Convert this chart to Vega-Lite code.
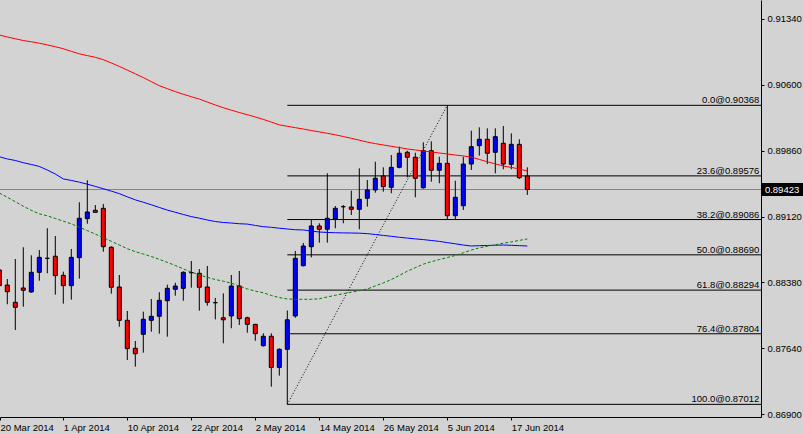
{
  "$schema": "https://vega.github.io/schema/vega-lite/v6.json",
  "width": 761,
  "height": 417,
  "autosize": {"type": "none"},
  "padding": {"left": 0, "top": 0, "right": 42, "bottom": 17},
  "background": "#D3D3D3",
  "config": {"view": {"stroke": null, "fill": "#D3D3D3"}, "font": "Liberation Sans", "scale": {"continuousPadding": 0}},
  "datasets": {
    "bars": [
      {"i": 0, "date": "2014-03-20", "open": 0.8852, "high": 0.88565, "low": 0.88295, "close": 0.88344, "ma_long": 0.91157, "ma_mid": 0.89791, "ma_short": 0.89384},
      {"i": 1, "date": "2014-03-21", "open": 0.88351, "high": 0.88419, "low": 0.88135, "close": 0.88276, "ma_long": 0.91135, "ma_mid": 0.89766, "ma_short": 0.89336},
      {"i": 2, "date": "2014-03-24", "open": 0.88157, "high": 0.88643, "low": 0.87846, "close": 0.88101, "ma_long": 0.91115, "ma_mid": 0.89749, "ma_short": 0.89286},
      {"i": 3, "date": "2014-03-25", "open": 0.88318, "high": 0.88775, "low": 0.88108, "close": 0.88292, "ma_long": 0.91095, "ma_mid": 0.89724, "ma_short": 0.89236},
      {"i": 4, "date": "2014-03-26", "open": 0.88273, "high": 0.88685, "low": 0.88265, "close": 0.88494, "ma_long": 0.91081, "ma_mid": 0.89704, "ma_short": 0.89189},
      {"i": 5, "date": "2014-03-27", "open": 0.88494, "high": 0.88744, "low": 0.884, "close": 0.88662, "ma_long": 0.91065, "ma_mid": 0.89682, "ma_short": 0.8915},
      {"i": 6, "date": "2014-03-28", "open": 0.88651, "high": 0.88988, "low": 0.88483, "close": 0.88651, "ma_long": 0.91046, "ma_mid": 0.89642, "ma_short": 0.89128},
      {"i": 7, "date": "2014-03-31", "open": 0.88674, "high": 0.88901, "low": 0.88243, "close": 0.88456, "ma_long": 0.91026, "ma_mid": 0.89597, "ma_short": 0.89098},
      {"i": 8, "date": "2014-04-01", "open": 0.8846, "high": 0.88501, "low": 0.88142, "close": 0.88344, "ma_long": 0.91003, "ma_mid": 0.89542, "ma_short": 0.89068},
      {"i": 9, "date": "2014-04-02", "open": 0.88344, "high": 0.88756, "low": 0.88187, "close": 0.88662, "ma_long": 0.90974, "ma_mid": 0.89525, "ma_short": 0.89038},
      {"i": 10, "date": "2014-04-03", "open": 0.88658, "high": 0.8928, "low": 0.88422, "close": 0.891, "ma_long": 0.90946, "ma_mid": 0.89506, "ma_short": 0.89},
      {"i": 11, "date": "2014-04-04", "open": 0.89096, "high": 0.89527, "low": 0.89039, "close": 0.89171, "ma_long": 0.90926, "ma_mid": 0.89483, "ma_short": 0.88962},
      {"i": 12, "date": "2014-04-06", "open": 0.8919, "high": 0.89249, "low": 0.89167, "close": 0.89167, "ma_long": 0.90907, "ma_mid": 0.89458, "ma_short": 0.88923},
      {"i": 13, "date": "2014-04-07", "open": 0.89212, "high": 0.89261, "low": 0.88725, "close": 0.88781, "ma_long": 0.9088, "ma_mid": 0.89432, "ma_short": 0.88882},
      {"i": 14, "date": "2014-04-08", "open": 0.88775, "high": 0.88785, "low": 0.88254, "close": 0.88326, "ma_long": 0.90843, "ma_mid": 0.89405, "ma_short": 0.88842},
      {"i": 15, "date": "2014-04-09", "open": 0.88329, "high": 0.88464, "low": 0.87883, "close": 0.87955, "ma_long": 0.90805, "ma_mid": 0.89377, "ma_short": 0.888},
      {"i": 16, "date": "2014-04-10", "open": 0.87955, "high": 0.8806, "low": 0.8751, "close": 0.87637, "ma_long": 0.90763, "ma_mid": 0.89341, "ma_short": 0.88759},
      {"i": 17, "date": "2014-04-11", "open": 0.87641, "high": 0.87723, "low": 0.87435, "close": 0.8758, "ma_long": 0.90722, "ma_mid": 0.89307, "ma_short": 0.88726},
      {"i": 18, "date": "2014-04-14", "open": 0.87798, "high": 0.88052, "low": 0.87592, "close": 0.87967, "ma_long": 0.90679, "ma_mid": 0.8928, "ma_short": 0.88699},
      {"i": 19, "date": "2014-04-15", "open": 0.87955, "high": 0.88194, "low": 0.87827, "close": 0.88, "ma_long": 0.90634, "ma_mid": 0.89252, "ma_short": 0.88671},
      {"i": 20, "date": "2014-04-16", "open": 0.88, "high": 0.8827, "low": 0.87805, "close": 0.8818, "ma_long": 0.90588, "ma_mid": 0.89222, "ma_short": 0.88639},
      {"i": 21, "date": "2014-04-17", "open": 0.88175, "high": 0.88355, "low": 0.87771, "close": 0.88314, "ma_long": 0.90555, "ma_mid": 0.89192, "ma_short": 0.88606},
      {"i": 22, "date": "2014-04-18", "open": 0.88303, "high": 0.88377, "low": 0.88231, "close": 0.8834, "ma_long": 0.90522, "ma_mid": 0.89168, "ma_short": 0.8857},
      {"i": 23, "date": "2014-04-21", "open": 0.88314, "high": 0.88505, "low": 0.88175, "close": 0.88494, "ma_long": 0.90492, "ma_mid": 0.89143, "ma_short": 0.88532},
      {"i": 24, "date": "2014-04-22", "open": 0.8849, "high": 0.88621, "low": 0.88321, "close": 0.8849, "ma_long": 0.90465, "ma_mid": 0.89119, "ma_short": 0.88496},
      {"i": 25, "date": "2014-04-23", "open": 0.88483, "high": 0.88531, "low": 0.88063, "close": 0.88326, "ma_long": 0.90438, "ma_mid": 0.89101, "ma_short": 0.88466},
      {"i": 26, "date": "2014-04-24", "open": 0.88329, "high": 0.88565, "low": 0.88119, "close": 0.88157, "ma_long": 0.90405, "ma_mid": 0.89081, "ma_short": 0.88437},
      {"i": 27, "date": "2014-04-25", "open": 0.88153, "high": 0.88206, "low": 0.87965, "close": 0.88153, "ma_long": 0.90372, "ma_mid": 0.89064, "ma_short": 0.88413},
      {"i": 28, "date": "2014-04-28", "open": 0.87984, "high": 0.88258, "low": 0.87697, "close": 0.87961, "ma_long": 0.90341, "ma_mid": 0.89053, "ma_short": 0.88394},
      {"i": 29, "date": "2014-04-29", "open": 0.88004, "high": 0.88464, "low": 0.87866, "close": 0.8834, "ma_long": 0.90314, "ma_mid": 0.89047, "ma_short": 0.88372},
      {"i": 30, "date": "2014-04-30", "open": 0.8834, "high": 0.88509, "low": 0.87903, "close": 0.87973, "ma_long": 0.90287, "ma_mid": 0.89039, "ma_short": 0.88339},
      {"i": 31, "date": "2014-05-01", "open": 0.87984, "high": 0.87995, "low": 0.87816, "close": 0.8791, "ma_long": 0.90263, "ma_mid": 0.89035, "ma_short": 0.88307},
      {"i": 32, "date": "2014-05-02", "open": 0.8791, "high": 0.87915, "low": 0.87726, "close": 0.87805, "ma_long": 0.90237, "ma_mid": 0.8902, "ma_short": 0.88283},
      {"i": 33, "date": "2014-05-05", "open": 0.8767, "high": 0.87809, "low": 0.87659, "close": 0.87776, "ma_long": 0.9021, "ma_mid": 0.89006, "ma_short": 0.88264},
      {"i": 34, "date": "2014-05-06", "open": 0.87776, "high": 0.87809, "low": 0.8721, "close": 0.87426, "ma_long": 0.9018, "ma_mid": 0.88999, "ma_short": 0.88234},
      {"i": 35, "date": "2014-05-07", "open": 0.87426, "high": 0.8764, "low": 0.87334, "close": 0.8763, "ma_long": 0.90149, "ma_mid": 0.88989, "ma_short": 0.8821},
      {"i": 36, "date": "2014-05-08", "open": 0.8763, "high": 0.88065, "low": 0.87012, "close": 0.87961, "ma_long": 0.90133, "ma_mid": 0.8898, "ma_short": 0.88195},
      {"i": 37, "date": "2014-05-09", "open": 0.88004, "high": 0.88733, "low": 0.87984, "close": 0.88651, "ma_long": 0.90117, "ma_mid": 0.88972, "ma_short": 0.88191},
      {"i": 38, "date": "2014-05-12", "open": 0.88568, "high": 0.88823, "low": 0.8856, "close": 0.88789, "ma_long": 0.90102, "ma_mid": 0.88969, "ma_short": 0.88191},
      {"i": 39, "date": "2014-05-13", "open": 0.88781, "high": 0.89089, "low": 0.88662, "close": 0.89014, "ma_long": 0.90085, "ma_mid": 0.88957, "ma_short": 0.88191},
      {"i": 40, "date": "2014-05-14", "open": 0.89014, "high": 0.89044, "low": 0.88826, "close": 0.88977, "ma_long": 0.9007, "ma_mid": 0.88946, "ma_short": 0.88197},
      {"i": 41, "date": "2014-05-15", "open": 0.88977, "high": 0.89605, "low": 0.88826, "close": 0.891, "ma_long": 0.90054, "ma_mid": 0.88941, "ma_short": 0.88217},
      {"i": 42, "date": "2014-05-16", "open": 0.89092, "high": 0.89238, "low": 0.88988, "close": 0.89212, "ma_long": 0.90037, "ma_mid": 0.88938, "ma_short": 0.88236},
      {"i": 43, "date": "2014-05-19", "open": 0.8923, "high": 0.89249, "low": 0.89044, "close": 0.8923, "ma_long": 0.90018, "ma_mid": 0.88936, "ma_short": 0.88254},
      {"i": 44, "date": "2014-05-20", "open": 0.89227, "high": 0.8941, "low": 0.89137, "close": 0.89201, "ma_long": 0.89998, "ma_mid": 0.88935, "ma_short": 0.88271},
      {"i": 45, "date": "2014-05-21", "open": 0.89201, "high": 0.89661, "low": 0.88977, "close": 0.89313, "ma_long": 0.89977, "ma_mid": 0.88933, "ma_short": 0.88288},
      {"i": 46, "date": "2014-05-22", "open": 0.89325, "high": 0.8953, "low": 0.8923, "close": 0.89418, "ma_long": 0.89955, "ma_mid": 0.88928, "ma_short": 0.88307},
      {"i": 47, "date": "2014-05-23", "open": 0.89418, "high": 0.89735, "low": 0.89387, "close": 0.89549, "ma_long": 0.89938, "ma_mid": 0.88918, "ma_short": 0.88341},
      {"i": 48, "date": "2014-05-26", "open": 0.89575, "high": 0.89672, "low": 0.89399, "close": 0.89455, "ma_long": 0.89923, "ma_mid": 0.88908, "ma_short": 0.88375},
      {"i": 49, "date": "2014-05-27", "open": 0.89448, "high": 0.8981, "low": 0.89381, "close": 0.89672, "ma_long": 0.89908, "ma_mid": 0.88898, "ma_short": 0.88412},
      {"i": 50, "date": "2014-05-28", "open": 0.89672, "high": 0.89904, "low": 0.89661, "close": 0.8983, "ma_long": 0.89894, "ma_mid": 0.88887, "ma_short": 0.88459},
      {"i": 51, "date": "2014-05-29", "open": 0.89841, "high": 0.89859, "low": 0.8956, "close": 0.89785, "ma_long": 0.89878, "ma_mid": 0.88878, "ma_short": 0.88506},
      {"i": 52, "date": "2014-05-30", "open": 0.89785, "high": 0.89836, "low": 0.89336, "close": 0.89549, "ma_long": 0.89867, "ma_mid": 0.88869, "ma_short": 0.88546},
      {"i": 53, "date": "2014-06-02", "open": 0.89443, "high": 0.89953, "low": 0.89432, "close": 0.89859, "ma_long": 0.89855, "ma_mid": 0.88861, "ma_short": 0.88585},
      {"i": 54, "date": "2014-06-03", "open": 0.89859, "high": 0.89964, "low": 0.89511, "close": 0.89639, "ma_long": 0.89844, "ma_mid": 0.88851, "ma_short": 0.88613},
      {"i": 55, "date": "2014-06-04", "open": 0.89639, "high": 0.89791, "low": 0.89493, "close": 0.89717, "ma_long": 0.89833, "ma_mid": 0.88841, "ma_short": 0.88637},
      {"i": 56, "date": "2014-06-05", "open": 0.89717, "high": 0.90368, "low": 0.89081, "close": 0.89129, "ma_long": 0.89822, "ma_mid": 0.88827, "ma_short": 0.88659},
      {"i": 57, "date": "2014-06-06", "open": 0.89129, "high": 0.89522, "low": 0.89092, "close": 0.89336, "ma_long": 0.8981, "ma_mid": 0.88814, "ma_short": 0.88683},
      {"i": 58, "date": "2014-06-09", "open": 0.89241, "high": 0.89791, "low": 0.89193, "close": 0.89709, "ma_long": 0.898, "ma_mid": 0.888, "ma_short": 0.88713},
      {"i": 59, "date": "2014-06-10", "open": 0.89709, "high": 0.90083, "low": 0.89642, "close": 0.89904, "ma_long": 0.89787, "ma_mid": 0.88789, "ma_short": 0.88743},
      {"i": 60, "date": "2014-06-11", "open": 0.89915, "high": 0.90121, "low": 0.89803, "close": 0.89987, "ma_long": 0.89761, "ma_mid": 0.88793, "ma_short": 0.88769},
      {"i": 61, "date": "2014-06-12", "open": 0.89987, "high": 0.9011, "low": 0.89709, "close": 0.8983, "ma_long": 0.89734, "ma_mid": 0.88795, "ma_short": 0.88786},
      {"i": 62, "date": "2014-06-13", "open": 0.89841, "high": 0.9011, "low": 0.89605, "close": 0.90016, "ma_long": 0.89711, "ma_mid": 0.88798, "ma_short": 0.88803},
      {"i": 63, "date": "2014-06-16", "open": 0.89942, "high": 0.90136, "low": 0.8965, "close": 0.89709, "ma_long": 0.89687, "ma_mid": 0.888, "ma_short": 0.8882},
      {"i": 64, "date": "2014-06-17", "open": 0.89706, "high": 0.90054, "low": 0.8965, "close": 0.8993, "ma_long": 0.89671, "ma_mid": 0.88797, "ma_short": 0.88835},
      {"i": 65, "date": "2014-06-18", "open": 0.8993, "high": 0.89987, "low": 0.89541, "close": 0.89556, "ma_long": 0.89654, "ma_mid": 0.88793, "ma_short": 0.88852},
      {"i": 66, "date": "2014-06-19", "open": 0.89575, "high": 0.89672, "low": 0.89362, "close": 0.89423, "ma_long": 0.89631, "ma_mid": 0.88789, "ma_short": 0.88868}
    ],
    "fib": [
      {"level": "0.0", "price": 0.90368, "label": "0.0@0.90368"},
      {"level": "23.6", "price": 0.89576, "label": "23.6@0.89576"},
      {"level": "38.2", "price": 0.89086, "label": "38.2@0.89086"},
      {"level": "50.0", "price": 0.8869, "label": "50.0@0.88690"},
      {"level": "61.8", "price": 0.88294, "label": "61.8@0.88294"},
      {"level": "76.4", "price": 0.87804, "label": "76.4@0.87804"},
      {"level": "100.0", "price": 0.87012, "label": "100.0@0.87012"}
    ],
    "trend": [
      {"i": 36, "price": 0.87012},
      {"i": 56, "price": 0.90368}
    ],
    "last": [{"price": 0.89423}]
  },
  "layer": [
    {
      "data": {"name": "last"},
      "mark": {"type": "rule", "color": "#778899", "strokeWidth": 1},
      "encoding": {
        "y": {
          "field": "price", "type": "quantitative", "title": null,
          "scale": {"domain": [0.8687, 0.9155], "nice": false, "zero": false, "padding": 0},
          "axis": {
            "orient": "right",
            "values": [0.869, 0.8727, 0.8764, 0.8801, 0.8838, 0.8875, 0.8912, 0.8949, 0.8986, 0.9023, 0.906, 0.9097, 0.9134],
            "format": ".5f", "grid": false,
            "domainColor": "#000000", "domainWidth": 1,
            "tickColor": "#000000", "tickSize": 3, "tickWidth": 1,
            "labelColor": "#000000", "labelFont": "Liberation Sans", "labelFontSize": 9.5,
            "labelPadding": 3, "labelOverlap": false, "labelFlush": false, "labelBound": false
          }
        }
      }
    },
    {
      "data": {"name": "fib"},
      "mark": {"type": "rule", "color": "#000000", "strokeWidth": 1, "clip": true},
      "encoding": {
        "x": {
          "datum": 36, "type": "quantitative", "title": null,
          "scale": {"domain": [0.0875, 95.2125], "nice": false, "zero": false, "padding": 0},
          "axis": {
            "orient": "bottom",
            "values": [0.0875, 8, 16, 24, 32, 40, 48, 56, 64],
            "labelExpr": "['20 Mar 2014','1 Apr 2014','10 Apr 2014','22 Apr 2014','2 May 2014','14 May 2014','26 May 2014','5 Jun 2014','17 Jun 2014'][round(datum.value/8)]",
            "grid": false,
            "domainColor": "#000000", "domainWidth": 1,
            "tickColor": "#000000", "tickSize": 3, "tickWidth": 1,
            "labelColor": "#000000", "labelFont": "Liberation Sans", "labelFontSize": 9.5,
            "labelAlign": "left", "labelBaseline": "top", "labelPadding": 2, "labelOffset": 0,
            "labelOverlap": false, "labelFlush": false, "labelBound": false
          }
        },
        "x2": {"datum": 96},
        "y": {"field": "price", "type": "quantitative", "title": null}
      }
    },
    {
      "data": {"name": "fib"},
      "mark": {"type": "text", "align": "right", "baseline": "alphabetic", "dy": -2, "font": "Liberation Sans", "fontSize": 9.5, "color": "#000000"},
      "encoding": {
        "x": {"datum": 95.0, "type": "quantitative", "title": null},
        "y": {"field": "price", "type": "quantitative", "title": null},
        "text": {"field": "label", "type": "nominal"}
      }
    },
    {
      "data": {"name": "trend"},
      "mark": {"type": "line", "color": "#000000", "strokeWidth": 1, "strokeDash": [1, 2]},
      "encoding": {
        "x": {"field": "i", "type": "quantitative", "title": null},
        "y": {"field": "price", "type": "quantitative", "title": null}
      }
    },
    {
      "data": {"name": "bars"},
      "mark": {"type": "rule", "color": "#000000", "strokeWidth": 1},
      "encoding": {
        "x": {"field": "i", "type": "quantitative", "title": null},
        "y": {"field": "low", "type": "quantitative", "title": null},
        "y2": {"field": "high"}
      }
    },
    {
      "data": {"name": "bars"},
      "mark": {"type": "bar", "width": 4, "stroke": "#000000", "strokeWidth": 1},
      "encoding": {
        "x": {"field": "i", "type": "quantitative", "title": null},
        "y": {"field": "open", "type": "quantitative", "title": null},
        "y2": {"field": "close"},
        "color": {"condition": {"test": "datum.close > datum.open", "value": "#0000FF"}, "value": "#FF0000"}
      }
    },
    {
      "data": {"name": "bars"},
      "mark": {"type": "line", "color": "#FF0000", "strokeWidth": 1},
      "encoding": {
        "x": {"field": "i", "type": "quantitative", "title": null},
        "y": {"field": "ma_long", "type": "quantitative", "title": null}
      }
    },
    {
      "data": {"name": "bars"},
      "mark": {"type": "line", "color": "#0000FF", "strokeWidth": 1},
      "encoding": {
        "x": {"field": "i", "type": "quantitative", "title": null},
        "y": {"field": "ma_mid", "type": "quantitative", "title": null}
      }
    },
    {
      "data": {"name": "bars"},
      "mark": {"type": "line", "color": "#008000", "strokeWidth": 1, "strokeDash": [3, 2]},
      "encoding": {
        "x": {"field": "i", "type": "quantitative", "title": null},
        "y": {"field": "ma_short", "type": "quantitative", "title": null}
      }
    },
    {
      "data": {"name": "last"},
      "mark": {"type": "bar", "height": 13, "color": "#000000"},
      "encoding": {
        "x": {"datum": 95.27, "type": "quantitative", "title": null},
        "x2": {"datum": 100.6},
        "y": {"field": "price", "type": "quantitative", "title": null}
      }
    },
    {
      "data": {"name": "last"},
      "mark": {"type": "text", "align": "left", "baseline": "middle", "font": "Liberation Sans", "fontSize": 9.5, "color": "#FFFFFF"},
      "encoding": {
        "x": {"datum": 95.7, "type": "quantitative", "title": null},
        "y": {"field": "price", "type": "quantitative", "title": null},
        "text": {"field": "price", "type": "quantitative", "format": ".5f"}
      }
    }
  ]
}
